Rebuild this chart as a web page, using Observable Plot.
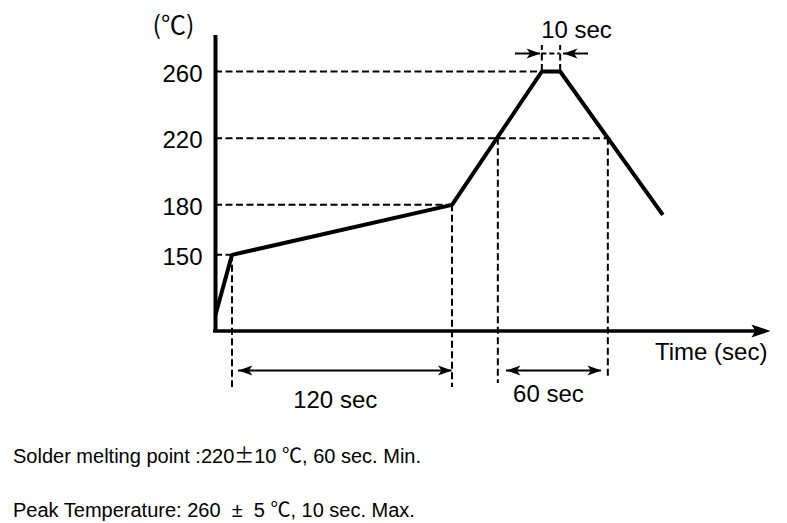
<!DOCTYPE html>
<html>
<head>
<meta charset="utf-8">
<script src="https://cdn.jsdelivr.net/npm/d3@7"></script>
<script src="https://cdn.jsdelivr.net/npm/@observablehq/plot@0.6"></script>
<style>
  html, body { margin: 0; padding: 0; background: #fff; }
  body { width: 787px; height: 523px; position: relative; overflow: hidden; font-family: "Liberation Sans", Arial, sans-serif; }
  #chart svg { display: block; }
  .note { position: absolute; left: 13px; font-size: 20px; line-height: 23px; color: #000; white-space: nowrap; }
  .cjk { font-family: "Noto Sans CJK JP", sans-serif; }
</style>
</head>
<body>
<div id="chart"></div>
<div class="note" style="top:443px">Solder melting point :220<span class="cjk">±</span>10 <span class="cjk">℃</span>, 60 sec. Min.</div>
<div class="note" style="top:497px">Peak Temperature: 260 &nbsp;±&nbsp; 5 <span class="cjk">℃</span>, 10 sec. Max.</div>
<script>
// ---- data (time in seconds, temperature in °C) ----
const profileTime = [0, 9, 129, 178, 188, 244];
const profileTemp = [114, 150, 180, 260, 260, 174];
const yTicks = [150, 180, 220, 260];
const tickLabels = ["150", "180", "220", "260"];
// horizontal guide lines: temperature and the time where they end
const guideTemp = [260, 220, 180, 150];
const guideEnd = [178, 216, 129, 9];
// vertical guide lines: time, from temperature, to temperature
const vGuideTime = [9, 129, 154, 214, 178, 188];
const vGuideFrom = [150, 180, 220, 220, 260, 260];
const vGuideTo = [70.4, 70.4, 72.8, 75.2, 275.6, 275.6];
// dimension spans below the axis
const spanLabels = ["120 sec", "60 sec"];
const spanFrom = [12.5, 158.7];
const spanTo = [129, 210.5];
const spanTemp = 80.6;
// peak dwell (10 sec)
const peakFrom = 178, peakTo = 188, peakTemp = 270.8;
const peakArrowOuter = [163.6, 203.5];
const peakArrowTip = [177.3, 189.8];
// axis extents
const axisBottomTemp = 104.3, axisTopTemp = 281.6, axisEndTime = 302.7;

// ---- layout ----
const W = 787, H = 420;
const pxPerSec = 220 / 120, xOrigin = 215;
const pxPerDeg = 200 / 120, y260 = 71;

const profile = profileTime.map((t, i) => ({t, T: profileTemp[i]}));
const guides = guideTemp.map((T, i) => ({T, end: guideEnd[i]}));
const vGuides = vGuideTime.map((t, i) => ({t, from: vGuideFrom[i], to: vGuideTo[i]}));
const spans = spanLabels.map((label, i) => ({label, from: spanFrom[i], to: spanTo[i]}));

const makeHead = (L, Hh, notch, dir) => ({
  draw(ctx) {
    ctx.moveTo(0, 0);
    ctx.lineTo(-dir * L, -Hh);
    ctx.lineTo(-dir * L * notch, 0);
    ctx.lineTo(-dir * L, Hh);
    ctx.closePath();
  }
});
const headR = makeHead(14, 5, 0.75, 1);
const headL = makeHead(14, 5, 0.75, -1);
const axisHead = makeHead(19, 6.5, 0.8, 1);

const dash = "7,3.5";
const chart = Plot.plot({
  width: W, height: H, margin: 0,
  style: {fontFamily: '"Liberation Sans", Arial, sans-serif', background: "white", color: "black"},
  x: {domain: [-xOrigin / pxPerSec, (W - xOrigin) / pxPerSec], axis: null},
  y: {domain: [260 - (H - y260) / pxPerDeg, 260 + y260 / pxPerDeg], axis: null},
  marks: [
    Plot.ruleY(guides, {y: "T", x1: 0, x2: "end", stroke: "black", strokeWidth: 2, strokeDasharray: dash}),
    Plot.ruleX(vGuides, {x: "t", y1: "from", y2: "to", stroke: "black", strokeWidth: 2, strokeDasharray: dash}),
    Plot.ruleY([peakTemp], {x1: peakFrom, x2: peakTo, stroke: "black", strokeWidth: 2, strokeDasharray: "5,3"}),
    // axes
    Plot.ruleX([0], {y1: axisBottomTemp, y2: axisTopTemp, stroke: "black", strokeWidth: 4}),
    Plot.ruleY([axisBottomTemp], {x1: -1.1, x2: axisEndTime - 6, stroke: "black", strokeWidth: 3.5}),
    Plot.dot([{t: axisEndTime, T: axisBottomTemp}], {x: "t", y: "T", symbol: axisHead, r: 1, fill: "black", stroke: "none"}),
    // profile
    Plot.line(profile, {x: "t", y: "T", stroke: "black", strokeWidth: 4, strokeLinejoin: "miter", strokeLinecap: "butt"}),
    // dimension arrows
    Plot.ruleY(spans, {y: spanTemp, x1: "from", x2: "to", stroke: "black", strokeWidth: 2}),
    Plot.dot(spans, {x: "from", y: spanTemp, symbol: headL, r: 1, fill: "black", stroke: "none"}),
    Plot.dot(spans, {x: "to", y: spanTemp, symbol: headR, r: 1, fill: "black", stroke: "none"}),
    Plot.text(spans, {x: d => (d.from + d.to) / 2, y: spanTemp, text: "label", fontSize: 24, dx: -10, dy: 29.5, filter: (d, i) => i === 0}),
    Plot.text(spans, {x: d => (d.from + d.to) / 2, y: spanTemp, text: "label", fontSize: 24, dx: -5.5, dy: 24, filter: (d, i) => i === 1}),
    // peak arrows
    Plot.ruleY([peakTemp], {x1: peakArrowOuter[0], x2: peakArrowTip[0], stroke: "black", strokeWidth: 2}),
    Plot.ruleY([peakTemp], {x1: peakArrowOuter[1], x2: peakArrowTip[1], stroke: "black", strokeWidth: 2}),
    Plot.dot([peakArrowTip[0]], {x: d => d, y: peakTemp, symbol: headR, r: 1, fill: "black", stroke: "none"}),
    Plot.dot([peakArrowTip[1]], {x: d => d, y: peakTemp, symbol: headL, r: 1, fill: "black", stroke: "none"}),
    Plot.text(["10 sec"], {x: (peakFrom + peakTo) / 2, y: peakTemp, text: d => d, fontSize: 24, dx: 25.5, dy: -23}),
    // tick labels
    Plot.text(yTicks, {x: 0, y: d => d, text: (d, i) => tickLabels[i], textAnchor: "end", dx: -13, dy: 2.5, fontSize: 24}),
    // axis titles
    Plot.text(["(℃)"], {x: 0, y: axisTopTemp, text: d => d, dx: -42, dy: -10, fontSize: 25, fontFamily: '"Noto Sans CJK JP", sans-serif'}),
    Plot.text(["Time (sec)"], {x: axisEndTime, y: axisBottomTemp, text: d => d, textAnchor: "end", dx: -3, dy: 21.5, fontSize: 24})
  ]
});
document.getElementById("chart").appendChild(chart);
</script>
</body>
</html>
